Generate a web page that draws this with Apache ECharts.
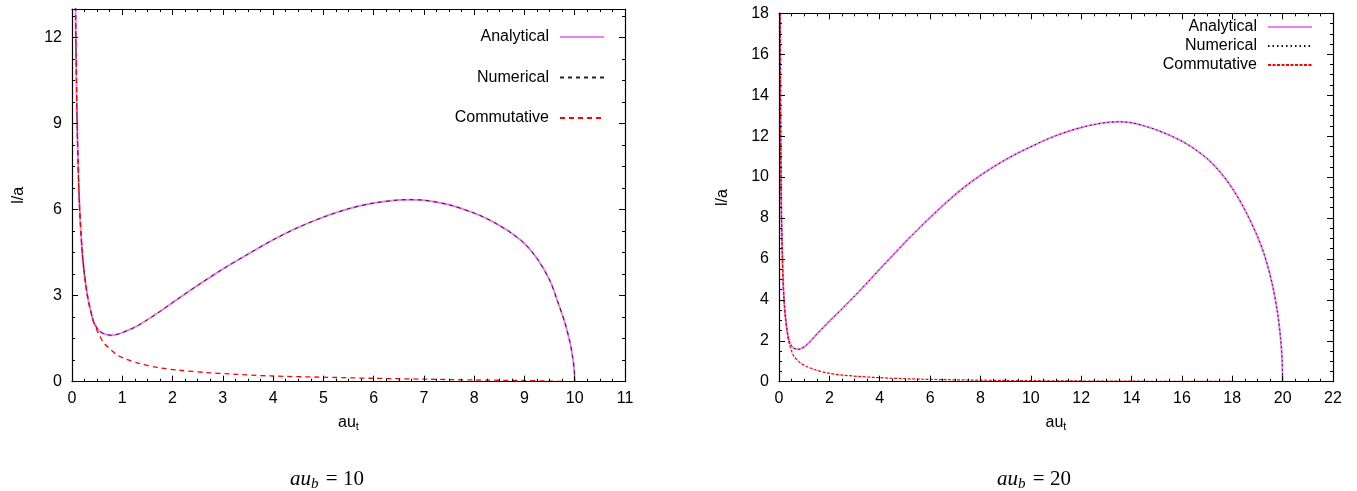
<!DOCTYPE html>
<html><head><meta charset="utf-8">
<script src="https://cdn.jsdelivr.net/npm/echarts@6/dist/echarts.min.js"></script>
<style>html,body{margin:0;padding:0;background:#fff}#c{width:1357px;height:491px}</style>
</head><body><div id="c"></div>
<script>
// ---- data (x = au_t, y = l/a) ----
const left_analytical = [[0.06,15.3],[0.07,13.1],[0.08,11.5],[0.1,9.2],[0.12,7.7],[0.15,6.1],[0.2,4.6],[0.25,3.7],[0.3,3.07],[0.34,2.72],[0.38,2.42],[0.42,2.15],[0.47,1.95],[0.53,1.8],[0.6,1.7],[0.7,1.64],[0.79,1.62],[0.9,1.65],[1.0,1.71],[1.25,1.9],[1.5,2.16],[1.75,2.45],[2.0,2.76],[2.5,3.36],[3.0,3.93],[3.5,4.45],[4.0,4.95],[4.5,5.38],[5.0,5.74],[5.5,6.03],[6.0,6.23],[6.5,6.34],[6.7,6.35],[7.0,6.33],[7.5,6.17],[8.0,5.88],[8.25,5.69],[8.5,5.45],[8.75,5.17],[9.0,4.82],[9.25,4.3],[9.5,3.55],[9.65,2.85],[9.8,2.08],[9.9,1.42],[9.96,0.85],[9.99,0.42],[10.0,0]];
const left_numerical = [[0.06,15.3],[0.07,13.1],[0.08,11.5],[0.1,9.2],[0.12,7.7],[0.15,6.1],[0.2,4.6],[0.25,3.7],[0.3,3.07],[0.34,2.72],[0.38,2.42],[0.42,2.15],[0.47,1.95],[0.53,1.8],[0.6,1.7],[0.7,1.64],[0.79,1.62],[0.9,1.65],[1.0,1.71],[1.25,1.9],[1.5,2.16],[1.75,2.45],[2.0,2.76],[2.5,3.36],[3.0,3.93],[3.5,4.45],[4.0,4.95],[4.5,5.38],[5.0,5.74],[5.5,6.03],[6.0,6.23],[6.5,6.34],[6.7,6.35],[7.0,6.33],[7.5,6.17],[8.0,5.88],[8.25,5.69],[8.5,5.45],[8.75,5.17],[9.0,4.82],[9.25,4.3],[9.5,3.55],[9.65,2.85],[9.8,2.08],[9.9,1.42],[9.96,0.85],[9.99,0.42],[10.0,0]];
const left_commutative = [[0.06,15.3],[0.07,13.1],[0.08,11.5],[0.1,9.2],[0.12,7.7],[0.15,6.1],[0.2,4.6],[0.25,3.7],[0.3,3.07],[0.34,2.7],[0.38,2.4],[0.42,2.12],[0.47,1.9],[0.55,1.6],[0.63,1.36],[0.77,1.12],[0.9,0.93],[1.07,0.79],[1.33,0.64],[1.73,0.49],[2.13,0.4],[2.67,0.32],[3.13,0.27],[3.95,0.2],[4.93,0.16],[5.93,0.12],[7.0,0.09],[8.0,0.06],[9.0,0.04],[9.5,0.02],[9.75,0.01]];

const right_analytical = [[0.04,20],[0.045,17.8],[0.055,14.5],[0.067,12],[0.08,10],[0.1,8],[0.13,6.3],[0.16,5.0],[0.2,4.0],[0.26,3.1],[0.33,2.42],[0.4,2.02],[0.47,1.8],[0.56,1.66],[0.66,1.6],[0.76,1.58],[0.86,1.61],[1.0,1.7],[1.25,1.98],[1.5,2.32],[2.0,2.95],[2.5,3.56],[3.0,4.18],[3.5,4.83],[4.0,5.5],[4.5,6.15],[5.0,6.8],[5.5,7.42],[6.0,8.02],[6.5,8.6],[7.0,9.14],[7.5,9.64],[8.0,10.08],[8.5,10.48],[9.0,10.85],[9.5,11.18],[10.0,11.48],[10.5,11.77],[11.0,12.02],[11.5,12.24],[12.0,12.42],[12.5,12.56],[13.0,12.66],[13.5,12.7],[14.0,12.65],[14.5,12.5],[15.0,12.3],[15.5,12.05],[16.0,11.75],[16.5,11.37],[17.0,10.9],[17.5,10.27],[18.0,9.45],[18.5,8.4],[19.0,7.1],[19.3,6.1],[19.6,4.7],[19.8,3.35],[19.92,2.1],[19.98,1.05],[20,0]];
const right_numerical = [[0.04,20],[0.045,17.8],[0.055,14.5],[0.067,12],[0.08,10],[0.1,8],[0.13,6.3],[0.16,5.0],[0.2,4.0],[0.26,3.1],[0.33,2.42],[0.4,2.02],[0.47,1.8],[0.56,1.66],[0.66,1.6],[0.76,1.58],[0.86,1.61],[1.0,1.7],[1.25,1.98],[1.5,2.32],[2.0,2.95],[2.5,3.56],[3.0,4.18],[3.5,4.83],[4.0,5.5],[4.5,6.15],[5.0,6.8],[5.5,7.42],[6.0,8.02],[6.5,8.6],[7.0,9.14],[7.5,9.64],[8.0,10.08],[8.5,10.48],[9.0,10.85],[9.5,11.18],[10.0,11.48],[10.5,11.77],[11.0,12.02],[11.5,12.24],[12.0,12.42],[12.5,12.56],[13.0,12.66],[13.5,12.7],[14.0,12.65],[14.5,12.5],[15.0,12.3],[15.5,12.05],[16.0,11.75],[16.5,11.37],[17.0,10.9],[17.5,10.27],[18.0,9.45],[18.5,8.4],[19.0,7.1],[19.3,6.1],[19.6,4.7],[19.8,3.35],[19.92,2.1],[19.98,1.05],[20,0]];
const right_commutative = [[0.04,20],[0.045,17.8],[0.055,14.5],[0.067,12],[0.08,10],[0.1,8],[0.13,6.3],[0.16,5.0],[0.2,4.0],[0.26,3.1],[0.33,2.4],[0.4,1.9],[0.5,1.5],[0.6,1.22],[0.73,1.05],[0.86,0.9],[1.1,0.74],[1.39,0.6],[1.9,0.43],[2.45,0.33],[3.77,0.21],[5.76,0.12],[9.07,0.06],[13,0.03],[18.3,0.01],[19.8,0.005]];

const seriesNames = ['Analytical', 'Numerical', 'Commutative'];
const captions = ['10', '20'];
const xAxisTitle = 'au';
const xAxisSub = 't';
const yAxisTitle = 'l/a';
const leftRange = {xMax: 11, xStep: 1, yMax: 13, yStep: 3, yMinorStep: 0.75};
const rightRange = {xMax: 22, xStep: 2, yMax: 18, yStep: 2};

// ---- styling ----
const FONT = 'Liberation Sans';
const SERIF = 'Liberation Serif';
const BLACK = '#000';
const VIOLET = '#ee82ee';
const RED = '#ff0000';

function axis(gridIndex, position, min, max, interval, opts) {
  opts = opts || {};
  const isX = position === 'bottom' || position === 'top';
  const main = position === 'bottom' || position === 'left';
  const a = {
    type: 'value', gridIndex, position, min, max, interval,
    axisLine: {show: opts.line !== false, onZero: false, lineStyle: {color: BLACK, width: 1.2}},
    axisTick: {show: true, inside: true, length: opts.tickLen || 6, lineStyle: {color: BLACK, width: 1}},
    minorTick: {show: opts.minor !== false, splitNumber: 4, length: 3, lineStyle: {color: BLACK, width: 1}},
    splitLine: {show: false}, minorSplitLine: {show: false},
    axisLabel: {show: main && opts.labels !== false, color: BLACK, fontFamily: FONT, fontSize: 16,
      margin: isX ? 9 : 10, showMaxLabel: opts.showMax !== false},
    z: 5
  };
  if (opts.name) Object.assign(a, opts.name);
  return a;
}

const xName = {
  name: '{m|' + xAxisTitle + '}{s|' + xAxisSub + '}', nameLocation: 'middle', nameGap: 31,
  nameTextStyle: {color: BLACK, fontFamily: FONT, rich: {
    m: {fontFamily: FONT, fontSize: 16, color: BLACK},
    s: {fontFamily: FONT, fontSize: 11, color: BLACK, padding: [9, 0, 0, 0]}
  }}
};
const yName = {
  name: yAxisTitle, nameLocation: 'middle', nameGap: 45,
  nameTextStyle: {color: BLACK, fontFamily: FONT, fontSize: 16}
};

function line(name, data, xi, yi, color, width, type, z) {
  return {
    type: 'line', name, data, xAxisIndex: xi, yAxisIndex: yi,
    showSymbol: false, symbol: 'none', smooth: 0.3, clip: true,
    lineStyle: {color, width, type}, itemStyle: {color}, z, animation: false
  };
}

function caption(value, x) {
  return {
    text: '{i|au}{s|b}{r| = ' + value + '}', left: x, top: 467, textAlign: 'center', padding: 0,
    textStyle: {fontWeight: 'normal', rich: {
      i: {fontFamily: SERIF, fontStyle: 'italic', fontWeight: 'normal', fontSize: 21, color: BLACK},
      s: {fontFamily: SERIF, fontStyle: 'italic', fontWeight: 'normal', fontSize: 15, color: BLACK, padding: [10, 2, 0, 0]},
      r: {fontFamily: SERIF, fontWeight: 'normal', fontSize: 21, color: BLACK}
    }}
  };
}

const chart = echarts.init(document.getElementById('c'), null, {renderer: 'canvas'});
chart.setOption({
  animation: false,
  backgroundColor: '#fff',
  title: [caption(captions[0], 327), caption(captions[1], 1034)],
  grid: [
    {left: 72, top: 9, width: 553, height: 372.7},
    {left: 779, top: 13.3, width: 554, height: 368.4}
  ],
  xAxis: [
    axis(0, 'bottom', 0, leftRange.xMax, leftRange.xStep, {name: xName}),
    axis(0, 'top', 0, leftRange.xMax, leftRange.xStep),
    axis(1, 'bottom', 0, rightRange.xMax, rightRange.xStep, {name: xName}),
    axis(1, 'top', 0, rightRange.xMax, rightRange.xStep)
  ],
  yAxis: [
    axis(0, 'left', 0, leftRange.yMax, leftRange.yStep, {minor: false, showMax: false, name: yName}),
    axis(0, 'right', 0, leftRange.yMax, leftRange.yStep, {minor: false}),
    axis(0, 'left', 0, leftRange.yMax, leftRange.yMinorStep, {minor: false, labels: false, line: false, tickLen: 3}),
    axis(0, 'right', 0, leftRange.yMax, leftRange.yMinorStep, {minor: false, labels: false, line: false, tickLen: 3}),
    axis(1, 'left', 0, rightRange.yMax, rightRange.yStep, {name: Object.assign({}, yName, {nameGap: 48})}),
    axis(1, 'right', 0, rightRange.yMax, rightRange.yStep)
  ],
  legend: [
    {
      data: seriesNames, orient: 'vertical', align: 'right', right: 752, top: 29, padding: 0,
      itemWidth: 44, itemHeight: 14, itemGap: 24.5, selectedMode: false,
      itemStyle: {opacity: 0},
      textStyle: {color: BLACK, fontFamily: FONT, fontSize: 16, padding: [0, 6, 0, 0]}
    },
    {
      data: seriesNames.map(n => n + ' '), orient: 'vertical', align: 'right', right: 44, top: 19, padding: 0,
      itemWidth: 44, itemHeight: 14, itemGap: 3, selectedMode: false,
      itemStyle: {opacity: 0},
      formatter: n => n.trim(),
      textStyle: {color: BLACK, fontFamily: FONT, fontSize: 16, padding: [0, 6, 0, 0]}
    }
  ],
  series: [
    line(seriesNames[0], left_analytical, 0, 0, VIOLET, 2, 'solid', 2),
    line(seriesNames[1], left_numerical, 0, 0, '#222', 1, [4, 4], 3),
    line(seriesNames[2], left_commutative, 0, 0, RED, 1.3, [5, 4], 4),
    line(seriesNames[0] + ' ', right_analytical, 2, 4, VIOLET, 2, 'solid', 2),
    line(seriesNames[1] + ' ', right_numerical, 2, 4, '#111', 1, [1.5, 3], 3),
    line(seriesNames[2] + ' ', right_commutative, 2, 4, RED, 1.2, [3, 1.5], 4)
  ]
});
</script>
</body></html>
